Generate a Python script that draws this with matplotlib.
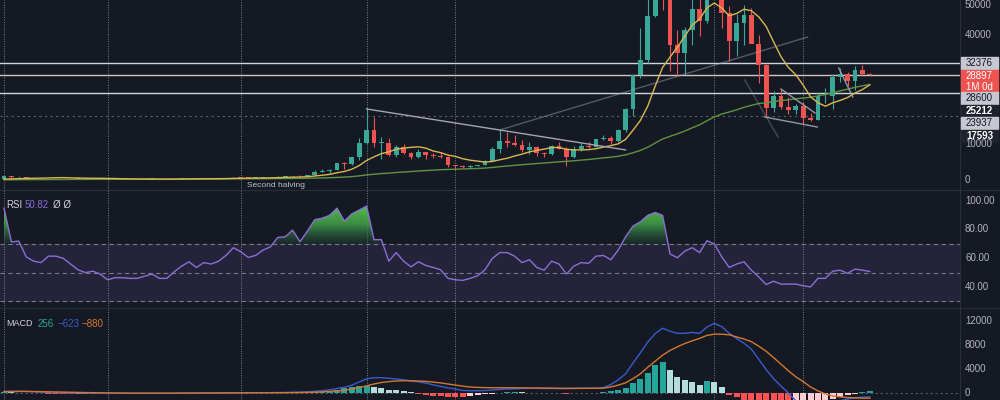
import numpy as np
import matplotlib
matplotlib.use('Agg')
import matplotlib.pyplot as plt
from matplotlib.patches import Rectangle
from matplotlib.colors import LinearSegmentedColormap
from matplotlib.path import Path

plt.rcParams['font.family'] = ['Liberation Sans', 'DejaVu Sans']

# monthly BTC candles, Nov 2013 .. Aug 2023
opens = [204, 1130,
         730, 800, 550, 450, 445, 630, 640, 585, 480, 385, 340, 375,
         320, 217, 255, 245, 236, 230, 263, 284, 230, 236, 314, 378,
         430, 368, 437, 416, 448, 530, 670, 621, 575, 609, 700, 745,
         964, 970, 1190, 1080, 1350, 2300, 2480, 2875, 4700, 4340, 6470, 10230,
         13860, 10220, 10300, 6920, 9240, 7490, 6390, 7730, 7030, 6630, 6320, 4020,
         3740, 3460, 3850, 4110, 5350, 8570, 10820, 10090, 9600, 8310, 9150, 7560,
         7190, 9350, 8550, 6410, 8630, 9450, 9140, 11350, 11650, 10780, 13800, 19700,
         28990, 33110, 45140, 58740, 57700, 37300, 35040, 41460, 47100, 43790, 61300, 57000,
         46200, 38480, 43190, 45540, 37640, 31800, 19940, 23300, 20050, 19430, 20490, 17165,
         16540, 23125, 23140, 28470, 29250, 27200, 30470, 29230]
highs = [1163, 1160,
         1000, 870, 700, 550, 630, 680, 660, 600, 500, 410, 460, 380,
         320, 265, 300, 260, 245, 268, 315, 285, 245, 330, 500, 470,
         465, 440, 440, 470, 550, 780, 700, 620, 620, 720, 760, 980,
         1150, 1200, 1290, 1350, 2760, 3000, 2900, 4770, 5000, 6470, 11500, 19800,
         17300, 11800, 11700, 9750, 9990, 7780, 8500, 7770, 7420, 7680, 6570, 4240,
         4100, 4200, 4150, 5600, 9100, 13880, 13200, 12300, 10950, 10350, 9500, 7750,
         9580, 10500, 9190, 9460, 10070, 10380, 11430, 12480, 12050, 14100, 19860, 29300,
         41950, 58350, 61780, 64850, 59600, 41300, 42300, 50500, 52920, 67000, 69000, 59040,
         47990, 45800, 48200, 47450, 40000, 31950, 24670, 25200, 22800, 21100, 21480, 18400,
         23950, 25250, 29200, 31000, 29820, 31390, 31800, 29450]
lows = [200, 520,
        730, 400, 440, 340, 420, 550, 565, 440, 365, 275, 320, 310,
        170, 210, 240, 200, 225, 220, 255, 200, 225, 235, 300, 350,
        350, 365, 400, 410, 440, 520, 470, 470, 570, 605, 680, 740,
        750, 915, 890, 1070, 1340, 2100, 1830, 2670, 2970, 4160, 5500, 10000,
        9000, 5900, 6600, 6430, 7050, 5750, 6100, 5880, 6120, 6180, 3550, 3120,
        3350, 3380, 3770, 4100, 5300, 7450, 9070, 9350, 7710, 7300, 6500, 6430,
        6860, 8450, 3850, 6150, 8110, 8830, 8980, 10960, 9880, 10370, 13200, 17600,
        28130, 32300, 45000, 47000, 30000, 28800, 29300, 37330, 39600, 43280, 53250, 42000,
        32900, 34300, 37200, 37700, 26700, 17600, 18780, 19600, 18150, 18200, 15480, 16300,
        16500, 21350, 19550, 26940, 25800, 24800, 28860, 28700]
closes = [1130, 730,
          800, 550, 450, 445, 630, 640, 585, 480, 385, 340, 375, 320,
          217, 255, 245, 236, 230, 263, 284, 230, 236, 314, 378, 430,
          368, 437, 416, 448, 530, 670, 621, 575, 609, 700, 745, 964,
          970, 1190, 1080, 1350, 2300, 2480, 2875, 4700, 4340, 6470, 10230, 13860,
          10220, 10300, 6920, 9240, 7490, 6390, 7730, 7030, 6630, 6320, 4020, 3740,
          3460, 3850, 4110, 5350, 8570, 10820, 10090, 9600, 8310, 9150, 7560, 7190,
          9350, 8550, 6410, 8630, 9450, 9140, 11350, 11650, 10780, 13800, 19700, 28990,
          33110, 45140, 58740, 57700, 37300, 35040, 41460, 47100, 43790, 61300, 57000, 46200,
          38480, 43190, 45540, 37640, 31800, 19940, 23300, 20050, 19430, 20490, 17165, 16540,
          23125, 23140, 28470, 29250, 27200, 30470, 29230, 28897]

# yellow (short) and green (long) moving averages
ma_short = [241, 311, 385, 432, 471, 509, 564, 620, 662, 590, 552, 501, 481, 467,
            441, 400, 356, 317, 289, 276, 269, 253, 244, 255, 268, 289,
            304, 327, 344, 362, 395, 443, 478, 499, 519, 556, 590, 651,
            709, 783, 828, 909, 1101, 1309, 1550, 1990, 2365, 2976, 3981, 5401,
            6386, 7275, 7768, 8476, 8786, 9013, 9153, 8798, 7994, 7561, 6863, 6510,
            5868, 5463, 5210, 4946, 5117, 5582, 6001, 6621, 7129, 7761, 8173, 8516,
            8960, 8958, 8468, 8306, 8289, 8381, 8626, 9080, 9479, 9973, 11212, 13721,
            16441, 20407, 25918, 31068, 33918, 36613, 39687, 42731, 44376, 47508, 48826, 47432,
            45297, 45951, 47118, 46693, 44993, 42343, 38121, 34016, 31041, 29042, 26151, 22928,
            21316, 20353, 21301, 21962, 22757, 23983, 24954, 26258]
ma_long = [48, 62, 78, 89, 98, 107, 120, 133, 144, 154, 162, 168, 176, 182,
           187, 192, 197, 201, 206, 211, 216, 221, 225, 232, 239, 248,
           255, 263, 272, 280, 291, 304, 316, 328, 340, 354, 368, 387,
           407, 430, 451, 478, 522, 569, 624, 716, 800, 927, 1129, 1402,
           1584, 1775, 1898, 2072, 2212, 2331, 2473, 2601, 2722, 2839, 2911, 2979,
           3041, 3112, 3190, 3291, 3458, 3670, 3867, 4054, 4214, 4393, 4539, 4677,
           4856, 5018, 5139, 5303, 5484, 5658, 5874, 6094, 6297, 6561, 6943, 7509,
           8156, 9040, 10195, 11325, 12050, 12724, 13507, 14399, 15217, 16349, 17403, 18197,
           18762, 19349, 20055, 20602, 21100, 21314, 21630, 21903, 22137, 22406, 22617, 22821,
           23203, 23591, 24092, 24600, 25061, 25564, 25977, 26339]

rsi = [95, 71.5, 72, 61, 58, 57, 61.5, 61.5, 60, 56,
       52, 50, 51, 49, 45, 46.5, 46.5, 46, 46, 47.5,
       49, 46, 46, 50.6, 54.5, 57.6, 53.6, 57, 56, 58,
       62, 67.4, 64.6, 60.6, 62, 65.7, 68, 74.6, 75, 79.7,
       71.6, 79, 87, 88, 90, 95, 86, 91, 93.7, 96.5,
       73, 73, 58, 64, 58, 54, 57.6, 55, 53.6, 52,
       46, 45, 44.6, 46, 47.8, 52, 60, 64, 64, 61.5,
       57, 59, 53.6, 51.7, 58, 56, 49, 54.5, 57, 56.5,
       61.5, 62, 59, 65.7, 75, 82.5, 85.5, 90, 92, 90,
       63, 60.4, 65, 67.4, 64, 72.3, 70, 61, 53.6, 56,
       57.6, 51.7, 47, 41.7, 44, 42, 42, 42, 40.8, 40,
       46, 46, 51, 51.7, 49.5, 52.5, 51.7, 50.82]

macd = [300, 320, 300, 260, 200, 150, 110, 80, 50, 20,
        0, -20, -30, -40, -50, -50, -50, -45, -40, -35,
        -30, -28, -25, -20, -10, 0, 5, 10, 15, 20,
        25, 35, 40, 45, 50, 55, 60, 75, 90, 120,
        150, 200, 280, 380, 520, 750, 950, 1300, 1850, 2350,
        2550, 2550, 2450, 2350, 2200, 2000, 1850, 1650, 1350, 1100,
        850, 650, 420, 380, 380, 400, 500, 600, 650, 700,
        750, 780, 780, 750, 760, 730, 720, 740, 780, 800,
        830, 900, 1400, 2200, 3200, 5000, 6700, 8500, 9900, 10800,
        10300, 9950, 9950, 10100, 9950, 11000, 11600, 11050, 9950, 9100,
        8300, 7300, 5600, 3900, 2400, 1150, 0, -1300, -2300, -2800,
        -2700, -2300, -1700, -1300, -1000, -800, -700, -623]
signal = [200, 230, 250, 255, 245, 225, 200, 175, 150, 125,
          100, 75, 55, 35, 20, 5, -5, -15, -20, -25,
          -25, -25, -25, -25, -20, -15, -10, -5, 0, 5,
          10, 15, 20, 28, 32, 38, 42, 48, 55, 65,
          80, 100, 140, 190, 260, 360, 480, 640, 900, 1200,
          1500, 1750, 1900, 2000, 2050, 2040, 2000, 1930, 1820, 1680,
          1500, 1320, 1140, 1000, 930, 890, 880, 880, 870, 860,
          850, 840, 830, 820, 810, 800, 790, 780, 780, 780,
          790, 810, 1000, 1300, 1700, 2400, 3200, 4300, 5300, 6300,
          7100, 7700, 8250, 8700, 9100, 9600, 9800, 9800, 9700, 9350,
          9000, 8550, 7800, 6950, 5900, 4800, 3700, 2700, 1900, 1000,
          350, -150, -500, -650, -750, -820, -860, -880]
hist = [100, 90, 50, 5, -45, -75, -90, -95, -100, -105,
        -100, -95, -85, -75, -70, -55, -45, -30, -20, -10,
        -5, -3, 0, 5, 10, 15, 15, 15, 15, 15,
        15, 20, 20, 17, 18, 17, 18, 27, 35, 55,
        100, 120, 150, 200, 350, 550, 750, 950, 1100, 1170,
        1050, 800, 560, 420, 280, 110, -120, -300, -450, -550,
        -600, -620, -640, -500, -400, -250, -100, 60, 120, 150,
        100, 80, 50, 30, -30, -60, -100, -50, 0, 30,
        60, 120, 300, 500, 830, 1670, 2330, 3300, 4670, 5170,
        3830, 2600, 2170, 1900, 1330, 2060, 1900, 950, -330, -700,
        -1100, -1600, -2400, -3100, -3500, -3650, -3700, -3400, -3000, -2500,
        -2000, -1500, -1000, -650, -350, -100, 150, 256]

# cycle markers (month index) and drawn levels / trend lines
cycle_marks = [0, 14, 32, 49, 61, 96, 108]
halving_idx = 32
level_lines = [32376, 28897, 23937]
dotted_level = 17593
trend_lines = [((49, 19600), (84, 8300), 1.0),
               ((67, 13800), (108.6, 39450), 0.45),
               ((102.8, 17380), (109.9, 14620), 0.9),
               ((105, 25100), (109.6, 18480), 0.9),
               ((100.1, 27590), (104.6, 11860), 0.35),
               ((112.8, 30900), (114.7, 22900), 0.9)]

BG = '#151924'
UP = '#3aa896'
DOWN = '#ef5350'
TXT = '#b2b5be'
GRIDV = '#8f929c'

W, H = 1000, 400
fig = plt.figure(figsize=(10, 4), dpi=100, facecolor=BG)

x = np.arange(len(closes))
XL = (-4 / 7.4, 956 / 7.4)


def px_axes(top, bottom):
    ax = fig.add_axes([0, 1 - bottom / H, 960 / W, (bottom - top) / H])
    ax.set_facecolor(BG)
    ax.set_xlim(*XL)
    ax.set_xticks([])
    ax.set_yticks([])
    for s in ax.spines.values():
        s.set_visible(False)
    for m in cycle_marks:
        ax.axvline(m, color=GRIDV, ls=(0, (1, 1.5)), lw=0.7, alpha=0.85, zorder=1)
    return ax


def ftext(xp, yp, s, **kw):
    kw.setdefault('va', 'center')
    kw.setdefault('fontsize', 7)
    return fig.text(xp / W, 1 - yp / H, s, **kw)


def fbox(yp, color, h=12, y0=None):
    top = yp - h / 2 if y0 is None else y0
    fig.patches.append(Rectangle((961 / W, 1 - (top + h) / H), 37 / W, h / H,
                                 transform=fig.transFigure, color=color, zorder=3))


# ---------------- price panel ----------------
ax_p = px_axes(0, 190)
ax_p.set_ylim(-2760, 49660)
o = np.array(opens, float)
c = np.array(closes, float)
cols = [UP if cc >= oo else DOWN for oo, cc in zip(o, c)]
ax_p.vlines(x, lows, highs, colors=cols, lw=0.8, zorder=3)
ax_p.bar(x, np.maximum(np.abs(c - o), 150), bottom=np.minimum(o, c), width=0.66,
         color=cols, zorder=4)
ax_p.plot(x, ma_long, color='#5f9440', lw=1.0, zorder=5)
ax_p.plot(x, ma_short, color='#d9b852', lw=1.0, zorder=5)

for lv, col in zip(level_lines, ['#d1d4dc', '#d4c2c4', '#d1d4dc']):
    ax_p.axhline(lv, color=col, lw=1.0, zorder=2)
ax_p.axhline(dotted_level, color='#5d606b', lw=0.8, ls=(0, (2, 3)), zorder=2)

for (x0, y0), (x1, y1), a in trend_lines:
    ax_p.plot([x0, x1], [y0, y1], color='#a3a6af', lw=1.0, alpha=a, zorder=6)

ax_p.annotate('Second halving', xy=(halving_idx + 0.8, 0.022),
              xycoords=('data', 'axes fraction'), color='#c0c3cb', fontsize=6,
              va='center', ha='left')

# ---------------- RSI panel ----------------
ax_r = px_axes(190, 308)
ax_r.set_ylim(25.3, 107.7)
ax_r.axhspan(30, 70, color='#25233a', zorder=0)
for lv in (70, 50, 30):
    ax_r.axhline(lv, color='#787b86', lw=0.8, ls=(0, (4, 3)), zorder=1)
r = np.array(rsi)
fb = ax_r.fill_between(x, 70, r, where=r >= 70, interpolate=True, color='none', lw=0)
clip = Path.make_compound_path(*fb.get_paths())
cmap = LinearSegmentedColormap.from_list(
    'ob', [(0.16, 0.35, 0.25, 0.25), (0.25, 0.60, 0.28, 0.9), (0.35, 0.75, 0.32, 1.0)])
grad = np.linspace(0, 1, 128).reshape(-1, 1)
im = ax_r.imshow(grad, extent=(x[0], x[-1], 70, 97), origin='lower', aspect='auto',
                 cmap=cmap, zorder=2)
im.set_clip_path(clip, ax_r.transData)
ax_r.set_xlim(*XL)
ax_r.set_ylim(25.3, 107.7)
ax_r.plot(x, r, color='#8b6fd6', lw=1.0, zorder=3)

# ---------------- MACD panel ----------------
ax_m = px_axes(308, 400)
ax_m.set_ylim(-1167, 14167)
ax_m.axhline(0, color='#5d606b', lw=0.6, ls=(0, (3, 3)), zorder=1)
hcols = []
prev = 0
for hv in hist:
    if hv >= 0:
        hcols.append('#26a69a' if hv >= prev else '#b2dfdb')
    else:
        hcols.append('#ffcdd2' if hv >= prev else '#ff5252')
    prev = hv
ax_m.bar(x, hist, width=0.8, color=hcols, zorder=2)
ax_m.plot(x, macd, color='#3a5bd0', lw=1.0, zorder=3)
ax_m.plot(x, signal, color='#d4782e', lw=1.0, zorder=3)

# ---------------- frame lines ----------------
for yp in (190, 308):
    fig.add_artist(plt.Line2D([0, 1], [1 - yp / H] * 2, color='#2a2e39', lw=0.8))
fig.add_artist(plt.Line2D([960 / W] * 2, [0, 1], color='#2a2e39', lw=0.8))

# ---------------- right scale labels ----------------
ftext(965, 5, '50000', color=TXT)
ftext(965, 35, '40000', color=TXT)
ftext(965, 144, '10000', color=TXT)
ftext(965, 180, '0', color=TXT)

fbox(63, '#c5c8d0')
ftext(966, 63, '32376', color='#131722', zorder=4)
fbox(0, '#ef5350', h=23, y0=70)
ftext(966, 76, '28897', color='white', zorder=4)
ftext(966, 87, '1M 0d', color='white', zorder=4)
fbox(98, '#c5c8d0')
ftext(966, 98, '28600', color='#131722', zorder=4)
fbox(111, '#1e222d')
ftext(966, 111, '25212', color='white', fontweight='bold', zorder=4)
fbox(123, '#c5c8d0')
ftext(966, 123, '23937', color='#131722', zorder=4)
fbox(136, '#1e222d')
ftext(966, 136, '17593', color='white', fontweight='bold', zorder=4)

for yp, s in [(201, '100.00'), (229, '80.00'), (258, '60.00'), (287, '40.00')]:
    ftext(965, yp, s, color=TXT)
for yp, s in [(321, '12000'), (345, '8000'), (369, '4000'), (393, '0')]:
    ftext(965, yp, s, color=TXT)

# ---------------- indicator legends ----------------
ftext(6, 205, 'RSI', color='#d1d4dc')
ftext(25, 205, '50.82', color='#8b6fd6')
ftext(53, 205, 'Ø Ø', color='#d1d4dc')
ftext(6, 324, 'MACD', color='#d1d4dc', fontsize=6.5)
ftext(38, 324, '256', color='#26a69a')
ftext(58, 324, '\u2212623', color='#3a5bd0')
ftext(82, 324, '\u2212880', color='#d4782e')

fig.savefig('out.png', dpi=100, facecolor=BG)
